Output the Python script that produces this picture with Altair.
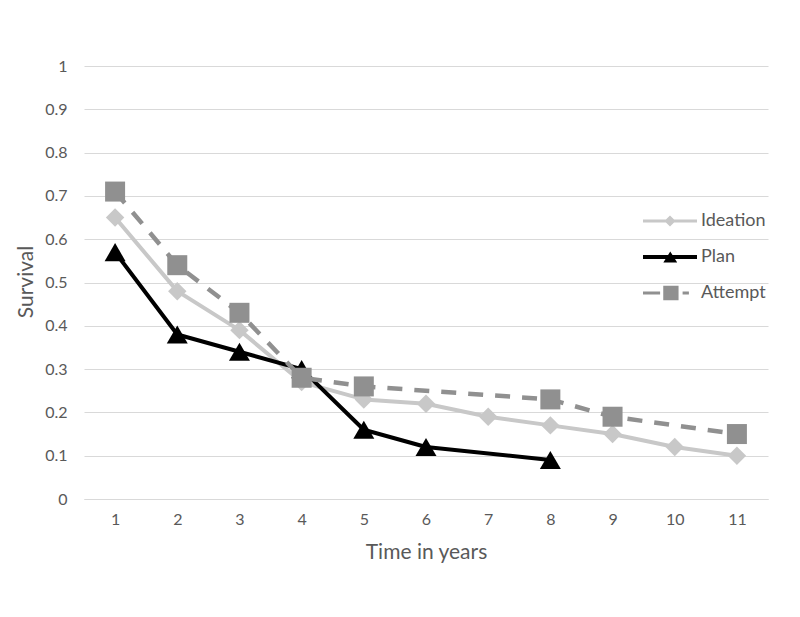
import altair as alt
import pandas as pd

# ---- data ----
years = [1, 2, 3, 4, 5, 6, 7, 8, 9, 10, 11]

ideation_years = [1, 2, 3, 4, 5, 6, 7, 8, 9, 10, 11]
ideation = [0.65, 0.48, 0.39, 0.27, 0.23, 0.22, 0.19, 0.17, 0.15, 0.12, 0.10]

plan_years = [1, 2, 3, 4, 5, 6, 8]
plan = [0.57, 0.38, 0.34, 0.30, 0.16, 0.12, 0.09]

attempt_years = [1, 2, 3, 4, 5, 8, 9, 11]
attempt = [0.71, 0.54, 0.43, 0.28, 0.26, 0.23, 0.19, 0.15]

series_names = ["Ideation", "Plan", "Attempt"]
y_ticks = [0, 0.1, 0.2, 0.3, 0.4, 0.5, 0.6, 0.7, 0.8, 0.9, 1]

# ---- styling ----
FONT = "Lato"
TXT = "#595959"
GRID = "#d9d9d9"
C_IDEATION = "#c8c8c8"
C_PLAN = "#000000"
C_ATTEMPT = "#909090"

# legend symbols: line + marker, as filled custom paths
legend_paths = [
    "M-5,-0.18H1V0.18H-5Z M-2,-0.62L-1.38,0L-2,0.62L-2.62,0Z",
    "M-5,-0.22H1V0.22H-5Z M-1.97,-0.62L-1.2,0.62L-2.74,0.62Z",
    "M-5,-0.18H-3.1V0.18H-5Z M-2.75,-0.8H-1.05V0.8H-2.75Z M-0.6,-0.18H0.1V0.18H-0.6Z",
]

def frame(name, xs, vs):
    return pd.DataFrame({"series": name, "year": xs, "value": vs})

df = pd.concat([
    frame("Ideation", ideation_years, ideation),
    frame("Plan", plan_years, plan),
    frame("Attempt", attempt_years, attempt),
], ignore_index=True)

x_enc = alt.X(
    "year:O",
    scale=alt.Scale(domain=years, type="point", padding=0.5),
    axis=alt.Axis(
        title="Time in years", labelAngle=0, ticks=False, grid=False,
        domainColor=GRID, domainWidth=1, labelPadding=12,
        labelFont=FONT, labelFontSize=16, labelColor=TXT,
        titleFont=FONT, titleFontSize=21, titleColor=TXT, titleFontWeight="normal",
        titleX=342, titleY=53, titleBaseline="middle", titleAlign="center",
    ),
)
y_enc = alt.Y(
    "value:Q",
    scale=alt.Scale(domain=[0, 1], nice=False, zero=True),
    axis=alt.Axis(
        title="Survival", values=y_ticks, format=".1~f", domain=False, ticks=False,
        gridColor=GRID, gridWidth=1, labelPadding=17,
        labelFont=FONT, labelFontSize=16, labelColor=TXT,
        titleFont=FONT, titleFontSize=21, titleColor=TXT, titleFontWeight="normal",
        titleX=-58, titleY=215.5, titleAngle=-90, titleBaseline="middle", titleAlign="center",
    ),
)

base = alt.Chart(df)

def series_layers(name, color, shape, size, width, dash=None):
    d = base.transform_filter(alt.datum.series == name)
    line_kwargs = dict(color=color, strokeWidth=width, strokeJoin="round")
    if dash:
        line_kwargs["strokeDash"] = dash
    line = d.mark_line(**line_kwargs).encode(x=x_enc, y=y_enc)
    pts = d.mark_point(filled=True, shape=shape, size=size, color=color, opacity=1).encode(x=x_enc, y=y_enc)
    return [line, pts]

layers = []
layers += series_layers("Ideation", C_IDEATION, "diamond", 340, 4)
layers += series_layers("Plan", C_PLAN, "triangle-up", 440, 4)
layers += series_layers("Attempt", C_ATTEMPT, "square", 400, 4.5, dash=[15, 12])

legend_layer = base.transform_filter(alt.datum.value < 0).mark_point(filled=True, opacity=1).encode(
    x=x_enc,
    y=y_enc,
    color=alt.Color(
        "series:N",
        scale=alt.Scale(domain=series_names, range=[C_IDEATION, C_PLAN, C_ATTEMPT]),
        legend=alt.Legend(
            title=None, orient="none", legendX=595, legendY=146, padding=0,
            symbolSize=324, symbolStrokeWidth=0, symbolOpacity=1,
            rowPadding=18, labelOffset=4,
            labelFont=FONT, labelFontSize=18, labelColor=TXT,
        ),
    ),
    shape=alt.Shape(
        "series:N",
        scale=alt.Scale(domain=series_names, range=legend_paths),
    ),
)

chart = alt.layer(*layers, legend_layer).properties(
    width=684,
    height=433,
    autosize=alt.AutoSizeParams(type="none"),
    padding={"left": 76, "top": 58, "right": 16, "bottom": 100},
    background="white",
).configure_view(stroke=None)

chart.save("out.html", embed_options={"renderer": "svg", "actions": False})
